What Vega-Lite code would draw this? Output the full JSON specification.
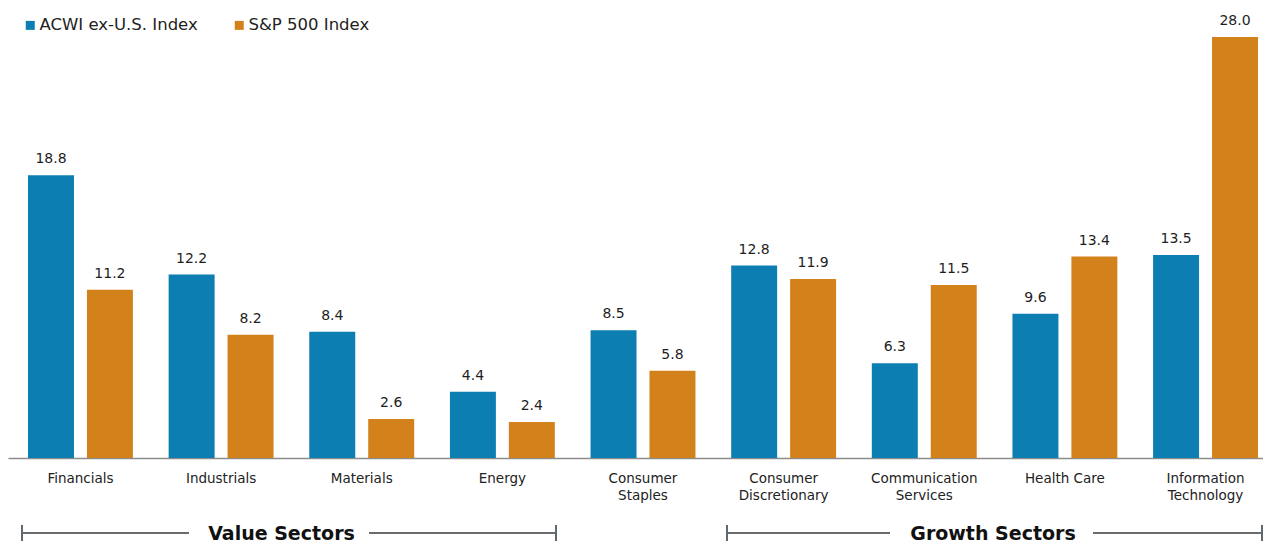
{
  "$schema": "https://vega.github.io/schema/vega-lite/v6.json",
  "autosize": {"type": "none"},
  "padding": {"left": 8, "top": 7, "right": 0, "bottom": 83},
  "width": 1255,
  "height": 451,
  "config": {
    "view": {"stroke": null},
    "font": "DejaVu Sans"
  },
  "datasets": {
    "bars": [
      {"sector": "Financials", "index": "ACWI ex-U.S. Index", "value": 18.8},
      {"sector": "Financials", "index": "S&P 500 Index", "value": 11.2},
      {"sector": "Industrials", "index": "ACWI ex-U.S. Index", "value": 12.2},
      {"sector": "Industrials", "index": "S&P 500 Index", "value": 8.2},
      {"sector": "Materials", "index": "ACWI ex-U.S. Index", "value": 8.4},
      {"sector": "Materials", "index": "S&P 500 Index", "value": 2.6},
      {"sector": "Energy", "index": "ACWI ex-U.S. Index", "value": 4.4},
      {"sector": "Energy", "index": "S&P 500 Index", "value": 2.4},
      {"sector": "Consumer Staples", "index": "ACWI ex-U.S. Index", "value": 8.5},
      {"sector": "Consumer Staples", "index": "S&P 500 Index", "value": 5.8},
      {"sector": "Consumer Discretionary", "index": "ACWI ex-U.S. Index", "value": 12.8},
      {"sector": "Consumer Discretionary", "index": "S&P 500 Index", "value": 11.9},
      {"sector": "Communication Services", "index": "ACWI ex-U.S. Index", "value": 6.3},
      {"sector": "Communication Services", "index": "S&P 500 Index", "value": 11.5},
      {"sector": "Health Care", "index": "ACWI ex-U.S. Index", "value": 9.6},
      {"sector": "Health Care", "index": "S&P 500 Index", "value": 13.4},
      {"sector": "Information Technology", "index": "ACWI ex-U.S. Index", "value": 13.5},
      {"sector": "Information Technology", "index": "S&P 500 Index", "value": 28.0}
    ],
    "lines": [
      {"group": "Value Sectors", "start": -0.416, "end": 0.7715},
      {"group": "Value Sectors", "start": 2.0515, "end": 3.3812},
      {"group": "Growth Sectors", "start": 4.5972, "end": 5.7563},
      {"group": "Growth Sectors", "start": 7.1997, "end": 8.4013}
    ],
    "ticks": [
      {"group": "Value Sectors", "pos": -0.416},
      {"group": "Value Sectors", "pos": 3.3812},
      {"group": "Growth Sectors", "pos": 4.5972},
      {"group": "Growth Sectors", "pos": 8.4013}
    ],
    "labels": [
      {"group": "Value Sectors", "pos": 1.4293},
      {"group": "Growth Sectors", "pos": 6.4887}
    ]
  },
  "layer": [
    {
      "data": {"name": "bars"},
      "encoding": {
        "x": {
          "field": "sector",
          "type": "nominal",
          "sort": ["Financials", "Industrials", "Materials", "Energy", "Consumer Staples", "Consumer Discretionary", "Communication Services", "Health Care", "Information Technology"],
          "scale": {"paddingInner": 0.254, "paddingOuter": 0.0889, "align": 0.8},
          "axis": {
            "title": null,
            "ticks": false,
            "domainColor": "#8c8c8c",
            "domainWidth": 1.5,
            "labelAngle": 0,
            "labelFont": "DejaVu Sans",
            "labelFontSize": 13.5,
            "labelColor": "#222222",
            "labelPadding": 13,
            "labelLineHeight": 17,
            "labelExpr": "(indexof(datum.label, ' ') > 0 && datum.label != 'Health Care') ? split(datum.label, ' ') : datum.label"
          }
        },
        "xOffset": {
          "field": "index",
          "type": "nominal",
          "sort": ["ACWI ex-U.S. Index", "S&P 500 Index"],
          "scale": {"paddingInner": 0.22, "paddingOuter": 0}
        },
        "y": {
          "field": "value",
          "type": "quantitative",
          "scale": {"domain": [0, 30], "nice": false},
          "axis": null
        }
      },
      "layer": [
        {
          "mark": {"type": "bar"},
          "encoding": {
            "color": {
              "field": "index",
              "type": "nominal",
              "scale": {"domain": ["ACWI ex-U.S. Index", "S&P 500 Index"], "range": ["#0c7eb1", "#d3821b"]},
              "legend": {
                "orient": "none",
                "legendX": 14,
                "legendY": 10,
                "direction": "horizontal",
                "title": null,
                "symbolType": "square",
                "symbolSize": 81,
                "symbolStrokeWidth": 0,
                "labelFont": "DejaVu Sans",
                "labelFontSize": 16.5,
                "labelColor": "#222222",
                "labelOffset": 1,
                "columnPadding": 33
              }
            }
          }
        },
        {
          "mark": {"type": "text", "baseline": "alphabetic", "dy": -12, "fontSize": 14, "font": "DejaVu Sans", "color": "#1e1e1e"},
          "encoding": {
            "text": {"field": "value", "type": "quantitative", "format": ".1f"}
          }
        }
      ]
    },
    {
      "encoding": {
        "x": {
          "type": "quantitative",
          "scale": {"type": "linear", "domain": [-0.5155, 8.4085], "nice": false, "zero": false},
          "axis": null
        }
      },
      "layer": [
        {
          "data": {"name": "lines"},
          "mark": {"type": "rule", "color": "#6b6b6b", "strokeWidth": 2},
          "encoding": {
            "x": {"field": "start", "type": "quantitative", "scale": {"type": "linear", "domain": [-0.5155, 8.4085], "nice": false, "zero": false}, "axis": null},
            "x2": {"field": "end"},
            "y": {"datum": -4.99, "type": "quantitative", "scale": {"domain": [0, 30], "nice": false}}
          }
        },
        {
          "data": {"name": "ticks"},
          "mark": {"type": "rule", "color": "#5f6a70", "strokeWidth": 2},
          "encoding": {
            "x": {"field": "pos", "type": "quantitative", "scale": {"type": "linear", "domain": [-0.5155, 8.4085], "nice": false, "zero": false}, "axis": null},
            "y": {"datum": -4.457, "type": "quantitative", "scale": {"domain": [0, 30], "nice": false}},
            "y2": {"datum": -5.6}
          }
        },
        {
          "data": {"name": "labels"},
          "mark": {"type": "text", "baseline": "middle", "align": "center", "fontSize": 19, "fontWeight": "bold", "font": "DejaVu Sans", "color": "#111111"},
          "encoding": {
            "x": {"field": "pos", "type": "quantitative", "scale": {"type": "linear", "domain": [-0.5155, 8.4085], "nice": false, "zero": false}, "axis": null},
            "y": {"datum": -5.05, "type": "quantitative", "scale": {"domain": [0, 30], "nice": false}},
            "text": {"field": "group"}
          }
        }
      ]
    }
  ],
  "resolve": {"scale": {"x": "independent"}}
}
